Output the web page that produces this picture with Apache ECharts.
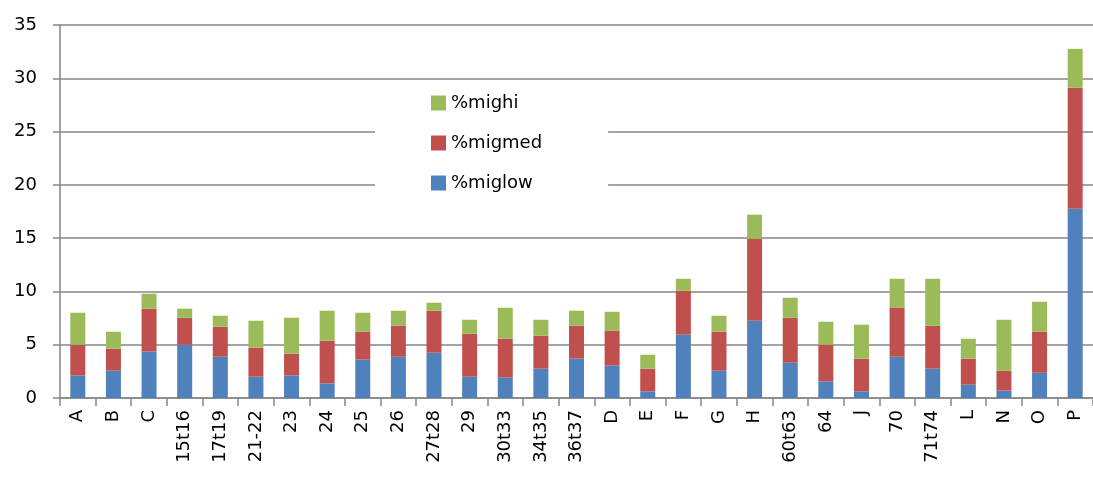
<!DOCTYPE html>
<html>
<head>
<meta charset="utf-8">
<script src="https://cdn.jsdelivr.net/npm/echarts@6/dist/echarts.min.js"></script>
<style>
  html, body { margin: 0; padding: 0; background: #fff; }
  #chart { width: 1093px; height: 480px; }
</style>
</head>
<body>
<div id="chart"></div>
<script>
// categories along the x axis
const categories = ['A', 'B', 'C', '15t16', '17t19', '21-22', '23', '24', '25', '26', '27t28', '29',
  '30t33', '34t35', '36t37', 'D', 'E', 'F', 'G', 'H', '60t63', '64', 'J', '70', '71t74', 'L', 'N', 'O', 'P']

// stacked segments
const migLow = [2.12, 2.56, 4.37, 5.0, 3.87, 2.0, 2.12, 1.37, 3.62, 3.87, 4.25, 2.0,
  1.94, 2.75, 3.69, 3.06, 0.62, 5.94, 2.56, 7.25, 3.31, 1.56, 0.62, 3.87, 2.75, 1.25, 0.69, 2.37, 17.76]
const migMed = [2.88, 2.06, 4.01, 2.53, 2.82, 2.72, 2.04, 4.01, 2.6, 2.91, 3.94, 4.03,
  3.62, 3.09, 3.09, 3.25, 2.13, 4.12, 3.66, 7.69, 4.22, 3.44, 3.07, 4.63, 4.03, 2.44, 1.87, 3.85, 11.34]
const migHi = [3.0, 1.6, 1.4, 0.85, 1.03, 2.53, 3.37, 2.81, 1.78, 1.41, 0.75, 1.31,
  2.91, 1.5, 1.41, 1.78, 1.31, 1.13, 1.5, 2.26, 1.88, 2.16, 3.19, 2.69, 4.41, 1.87, 4.78, 2.81, 3.66]

const yTicks = { min: 0, max: 35, interval: 5 }

const chart = echarts.init(document.getElementById('chart'))

const font = 'DejaVu Sans'
const gridColor = '#868686'

function bar(name, data, color) {
  return {
    name: name,
    type: 'bar',
    stack: 'mig',
    data: data,
    barWidth: 15,
    itemStyle: { color: color },
    emphasis: { disabled: true }
  }
}

chart.setOption({
  animation: false,
  textStyle: { fontFamily: font },
  grid: { left: 60, right: -11, top: 25, bottom: 82, containLabel: false },
  legend: {
    orient: 'vertical',
    left: 375,
    top: 84,
    padding: [10, 66, 10, 56],
    backgroundColor: '#fff',
    itemWidth: 15,
    itemHeight: 15,
    itemGap: 22,
    icon: 'rect',
    data: ['%mighi', '%migmed', '%miglow'],
    textStyle: { fontFamily: font, fontSize: 18, color: '#000' }
  },
  xAxis: {
    type: 'category',
    data: categories,
    axisLine: { lineStyle: { color: gridColor, width: 1.5 } },
    axisTick: { show: true, length: 8, alignWithLabel: false, lineStyle: { color: gridColor, width: 1.5 } },
    axisLabel: { rotate: 90, interval: 0, margin: 12, fontFamily: font, fontSize: 18, color: '#000' }
  },
  yAxis: {
    type: 'value',
    min: yTicks.min,
    max: yTicks.max,
    interval: yTicks.interval,
    axisLine: { show: true, lineStyle: { color: gridColor, width: 1.5 } },
    axisTick: { show: true, length: 7, lineStyle: { color: gridColor, width: 1.5 } },
    axisLabel: { margin: 23, fontFamily: font, fontSize: 18, color: '#000' },
    splitLine: { lineStyle: { color: gridColor, width: 1.5 } }
  },
  series: [
    bar('%miglow', migLow, '#4F81BD'),
    bar('%migmed', migMed, '#C0504D'),
    bar('%mighi', migHi, '#9BBB59')
  ]
})
</script>
</body>
</html>
